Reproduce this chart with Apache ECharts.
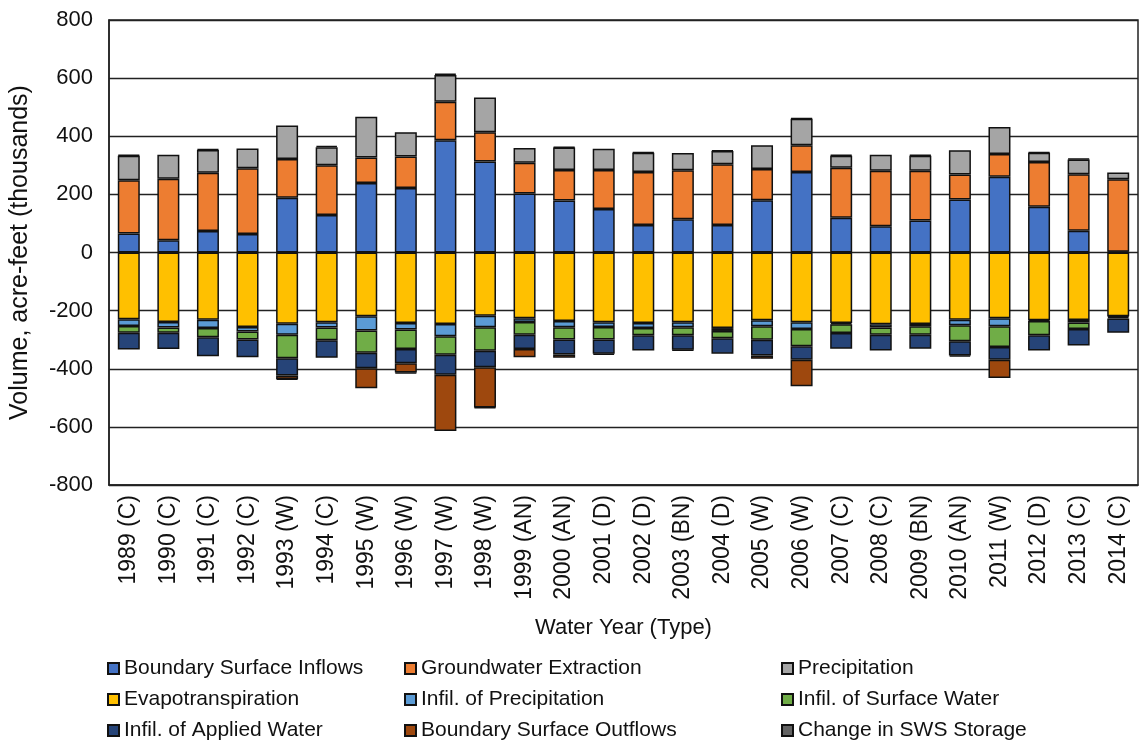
<!DOCTYPE html>
<html>
<head>
<meta charset="utf-8">
<script src="https://cdn.jsdelivr.net/npm/echarts@6/dist/echarts.min.js"></script>
<style>
  html, body { margin: 0; padding: 0; background: #fff; }
  #main { width: 1141px; height: 744px; }
</style>
</head>
<body>
<div id="main"></div>
<script>
// water years with type
var years = ['1989 (C)', '1990 (C)', '1991 (C)', '1992 (C)', '1993 (W)', '1994 (C)', '1995 (W)', '1996 (W)',
  '1997 (W)', '1998 (W)', '1999 (AN)', '2000 (AN)', '2001 (D)', '2002 (D)', '2003 (BN)', '2004 (D)',
  '2005 (W)', '2006 (W)', '2007 (C)', '2008 (C)', '2009 (BN)', '2010 (AN)', '2011 (W)', '2012 (D)',
  '2013 (C)', '2014 (C)'];

// inflows (thousand acre-feet)
var boundaryInflows = [65, 42, 74, 64, 188, 129, 239, 222, 386, 313, 203, 179, 150, 95, 114, 95, 180, 277, 120, 90, 110, 182, 261, 157, 75, 3];
var gwExtraction = [184, 212, 200, 226, 134, 171, 88, 108, 133, 101, 106, 105, 134, 182, 169, 209, 107, 92, 172, 191, 171, 86, 78, 154, 194, 249];
var precipitation = [84, 82, 79, 68, 115, 62, 140, 84, 92, 119, 51, 77, 73, 66, 59, 45, 82, 91, 41, 55, 52, 84, 93, 32, 51, 23];

// outflows
var evapotranspiration = [-230, -239, -231, -256, -245, -240, -219, -243, -246, -218, -226, -236, -240, -243, -240, -260, -233, -240, -243, -247, -246, -231, -226, -233, -232, -219];
var infilPrecip = [-23, -19, -29, -16, -38, -18, -49, -22, -42, -39, -13, -21, -16, -17, -17, -10, -21, -23, -4, -11, -8, -19, -28, -3, -9, -3];
var infilSurface = [-23, -18, -32, -27, -81, -44, -77, -67, -64, -81, -44, -42, -43, -25, -28, -25, -46, -60, -30, -25, -29, -55, -71, -49, -22, -5];
var infilApplied = [-58, -56, -65, -61, -59, -60, -53, -49, -69, -57, -49, -52, -49, -52, -50, -53, -54, -46, -54, -54, -48, -49, -44, -52, -57, -49];
var boundaryOutflows = [null, null, null, null, -12, null, -69, -32, -193, -138, -28, -11, null, null, null, null, -12, -91, null, null, null, null, -63, null, null, null];

// change in surface water system storage
var swsStorage = [3, null, 3, null, -3, 5, null, -3, 4, -3, null, 3, -4, 3, -2, 3, null, 3, 3, null, 3, -5, null, 3, 3, null];

var seriesDefs = [
  ['Boundary Surface Inflows', boundaryInflows, '#4472C4'],
  ['Groundwater Extraction', gwExtraction, '#ED7D31'],
  ['Precipitation', precipitation, '#A5A5A5'],
  ['Evapotranspiration', evapotranspiration, '#FFC000'],
  ['Infil. of Precipitation', infilPrecip, '#5B9BD5'],
  ['Infil. of Surface Water', infilSurface, '#70AD47'],
  ['Infil. of Applied Water', infilApplied, '#264478'],
  ['Boundary Surface Outflows', boundaryOutflows, '#9E480E'],
  ['Change in SWS Storage', swsStorage, '#636363']
];

var font = 'Arial, "Liberation Sans", sans-serif';

var myChart = echarts.init(document.getElementById('main'));

// one legend per column, 3 rows each
function legendCol(left, names) {
  return {
    orient: 'vertical',
    left: left,
    top: 658,
    height: 90,
    padding: 0,
    itemWidth: 11,
    itemHeight: 11,
    itemGap: 10,
    icon: 'rect',
    data: names,
    textStyle: { fontFamily: font, fontSize: 21, color: '#111', lineHeight: 21 }
  };
}

var option = {
  animation: false,
  backgroundColor: '#fff',
  grid: {
    left: 107, right: 3, top: 20, bottom: 259,
    show: true, borderColor: '#222', borderWidth: 1.5
  },
  legend: [
    legendCol(107, ['Boundary Surface Inflows', 'Evapotranspiration', 'Infil. of Applied Water']),
    legendCol(404, ['Groundwater Extraction', 'Infil. of Precipitation', 'Boundary Surface Outflows']),
    legendCol(781, ['Precipitation', 'Infil. of Surface Water', 'Change in SWS Storage'])
  ],
  xAxis: {
    type: 'category',
    data: years,
    name: 'Water Year (Type)',
    nameLocation: 'middle',
    nameGap: 132,
    nameTextStyle: { fontFamily: font, fontSize: 22, color: '#111' },
    axisLine: { onZero: false, lineStyle: { color: '#222', width: 1.5 } },
    axisTick: { show: false },
    axisLabel: { rotate: 90, interval: 0, margin: 10, fontFamily: font, fontSize: 23, color: '#111' }
  },
  yAxis: {
    type: 'value',
    min: -800, max: 800, interval: 200,
    name: 'Volume, acre-feet (thousands)',
    nameLocation: 'middle',
    nameGap: 76,
    nameTextStyle: { fontFamily: font, fontSize: 25, color: '#111' },
    axisLine: { show: true, lineStyle: { color: '#222', width: 1.5 } },
    axisTick: { show: false },
    axisLabel: { margin: 16, fontFamily: font, fontSize: 22, color: '#111' },
    splitLine: { lineStyle: { color: '#222', width: 1.3 } }
  },
  series: seriesDefs.map(function (d) {
    return {
      name: d[0],
      type: 'bar',
      stack: 'balance',
      barWidth: 22,
      data: d[1],
      itemStyle: { color: d[2], borderColor: '#111', borderWidth: 1.5 }
    };
  })
};

myChart.setOption(option);
</script>
</body>
</html>
